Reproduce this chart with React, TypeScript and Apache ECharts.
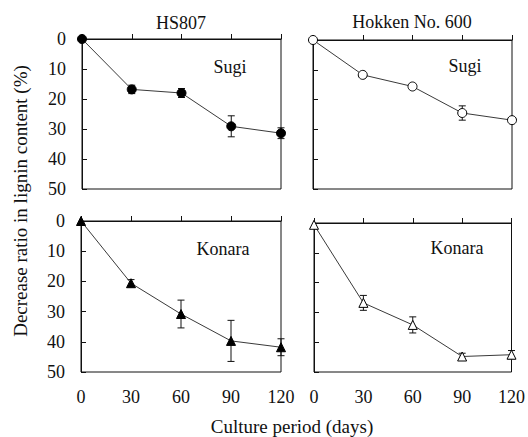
import React, { useEffect, useRef } from "react";
import * as echarts from "echarts";

const days = [0, 30, 60, 90, 120];
const xTicks = [0, 30, 60, 90, 120];
const yTicks = [0, 10, 20, 30, 40, 50];

const hsSugi = [0, 16.8, 18.0, 29.1, 31.4];
const hsSugiErr = [0, 1.4, 1.5, 3.5, 1.8];
const hkSugi = [0, 11.7, 15.6, 24.5, 26.9];
const hkSugiErr = [0, 0.5, 0.5, 2.4, 0.8];
const hsKonara = [0, 20.6, 30.8, 39.7, 41.8];
const hsKonaraErr = [0, 1.2, 4.6, 6.8, 2.8];
const hkKonara = [0.6, 26.8, 34.2, 44.8, 44.2];
const hkKonaraErr = [0, 2.5, 2.7, 1.1, 1.4];

const strainTitles = ["HS807", "Hokken No. 600"];
const woodLabels = ["Sugi", "Sugi", "Konara", "Konara"];
const yTitle = "Decrease ratio in lignin content (%)";
const xTitle = "Culture period (days)";

const FONT = "Liberation Serif, serif";

export default function App() {
  const ref = useRef<HTMLDivElement>(null);

  useEffect(() => {
    if (!ref.current) return;
    const chart = echarts.init(ref.current, undefined, { renderer: "svg" });

    const panels = [
      { grid: { left: 82, top: 39, width: 199, height: 150 }, values: hsSugi, errs: hsSugiErr, symbol: "circle", fill: "#000", showX: false, showY: true, label: woodLabels[0], lx: 230, ly: 67 },
      { grid: { left: 313, top: 40, width: 199, height: 149 }, values: hkSugi, errs: hkSugiErr, symbol: "circle", fill: "#fff", showX: false, showY: false, label: woodLabels[1], lx: 465, ly: 66 },
      { grid: { left: 81, top: 221, width: 200, height: 151 }, values: hsKonara, errs: hsKonaraErr, symbol: "triangle", fill: "#000", showX: true, showY: true, label: woodLabels[2], lx: 223, ly: 249 },
      { grid: { left: 314, top: 223, width: 198, height: 149 }, values: hkKonara, errs: hkKonaraErr, symbol: "triangle", fill: "#fff", showX: true, showY: false, label: woodLabels[3], lx: 457, ly: 248 },
    ];

    const grids = panels.map((p) => ({
      ...p.grid,
      show: true,
      borderColor: "#111",
      borderWidth: 1,
      backgroundColor: "transparent",
      containLabel: false,
    }));

    const xAxes = panels.map((p, i) => ({
      type: "value",
      gridIndex: i,
      min: xTicks[0],
      max: xTicks[xTicks.length - 1],
      interval: 30,
      axisLine: { show: true, lineStyle: { color: "#111", width: 1 } },
      axisTick: { show: true, inside: true, length: 5, lineStyle: { color: "#111" } },
      splitLine: { show: false },
      axisLabel: {
        show: p.showX,
        margin: 16,
        fontSize: 18,
        fontFamily: FONT,
        color: "#111",
      },
    }));

    const yAxes = panels.map((p, i) => ({
      type: "value",
      gridIndex: i,
      inverse: true,
      min: yTicks[0],
      max: yTicks[yTicks.length - 1],
      interval: 10,
      axisLine: { show: true, lineStyle: { color: "#111", width: 1 } },
      axisTick: { show: true, inside: true, length: 5, lineStyle: { color: "#111" } },
      splitLine: { show: false },
      axisLabel: {
        show: p.showY,
        margin: 16,
        fontSize: 18,
        fontFamily: FONT,
        color: "#111",
      },
    }));

    const series: any[] = [];
    panels.forEach((p, i) => {
      series.push({
        type: "custom",
        xAxisIndex: i,
        yAxisIndex: i,
        z: 1,
        clip: false,
        data: days.map((d, k) => [d, p.values[k], p.errs[k]]),
        renderItem: (params: any, api: any) => {
          const x = api.value(0);
          const v = api.value(1);
          const e = api.value(2);
          if (!e) return { type: "group", children: [] };
          const lo = api.coord([x, v - e]);
          const hi = api.coord([x, v + e]);
          const cap = 3.5;
          const style = { stroke: "#111", lineWidth: 1 };
          return {
            type: "group",
            children: [
              { type: "line", shape: { x1: lo[0], y1: lo[1], x2: hi[0], y2: hi[1] }, style },
              { type: "line", shape: { x1: lo[0] - cap, y1: lo[1], x2: lo[0] + cap, y2: lo[1] }, style },
              { type: "line", shape: { x1: hi[0] - cap, y1: hi[1], x2: hi[0] + cap, y2: hi[1] }, style },
            ],
          };
        },
      });
      series.push({
        type: "line",
        xAxisIndex: i,
        yAxisIndex: i,
        z: 3,
        clip: false,
        data: days.map((d, k) => [d, p.values[k]]),
        symbol: p.symbol,
        symbolSize: 9,
        showAllSymbol: true,
        lineStyle: { color: "#3a3a3a", width: 1 },
        itemStyle: { color: p.fill, borderColor: "#000", borderWidth: 1 },
      });
    });

    const textStyle = (text: string, size: number) => ({
      text,
      fontSize: size,
      fontFamily: FONT,
      fill: "#111",
      align: "center",
      verticalAlign: "middle",
    });

    const graphics: any[] = [
      { type: "text", x: 181, y: 23, style: textStyle(strainTitles[0], 18) },
      { type: "text", x: 412, y: 22, style: textStyle(strainTitles[1], 18) },
      { type: "text", x: 292, y: 426, style: textStyle(xTitle, 19) },
      { type: "text", x: 20, y: 201, rotation: Math.PI / 2, style: textStyle(yTitle, 19) },
      ...panels.map((p) => ({ type: "text", x: p.lx, y: p.ly, style: textStyle(p.label, 18) })),
    ];

    chart.setOption({
      animation: false,
      backgroundColor: "#fff",
      grid: grids,
      xAxis: xAxes,
      yAxis: yAxes,
      series,
      graphic: graphics,
    });

    return () => chart.dispose();
  }, []);

  return (
    <div
      ref={ref}
      style={{ position: "absolute", left: 0, top: 0, width: 528, height: 437, background: "#fff" }}
    />
  );
}
